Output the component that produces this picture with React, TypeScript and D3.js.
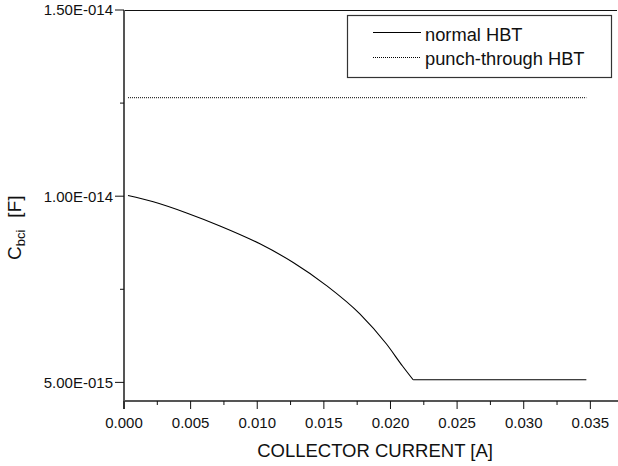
import React from "react";
import * as d3 from "d3";

const W = 618;
const H = 466;

// normal HBT: collector current [A] vs Cbci [F]
const normalI = [0.0003, 0.0022, 0.0047, 0.0072, 0.0102, 0.0127, 0.0152, 0.0177, 0.0197, 0.0209, 0.0217];
const normalC = [10.02e-15, 9.85e-15, 9.55e-15, 9.2e-15, 8.72e-15, 8.22e-15, 7.6e-15, 6.84e-15, 6.03e-15, 5.44e-15, 5.07e-15];
const normalFlatI = [0.0217, 0.0347];
const normalFlatC = [5.07e-15, 5.07e-15];

// punch-through HBT
const punchI = [0.0003, 0.0347];
const punchC = [12.645e-15, 12.645e-15];

const xTicks = [0, 0.005, 0.01, 0.015, 0.02, 0.025, 0.03, 0.035];
const xTickLabels = ["0.000", "0.005", "0.010", "0.015", "0.020", "0.025", "0.030", "0.035"];
const xMinorTicks = [0.0025, 0.0075, 0.0125, 0.0175, 0.0225, 0.0275, 0.0325];
const yTicks = [5e-15, 1e-14, 1.5e-14];
const yTickLabels = ["5.00E-015", "1.00E-014", "1.50E-014"];
const yMinorTicks = [7.5e-15, 1.25e-14];

const legendLabels = ["normal HBT", "punch-through HBT"];

const FONT = "'Liberation Sans', Arial, sans-serif";

export default function App() {
  const left = 124;
  const right = 617;
  const top = 10;
  const bottom = 401;

  const x = d3.scaleLinear().domain([0, 0.037]).range([left, right]);
  const y = d3.scaleLinear().domain([4.5e-15, 1.5e-14]).range([bottom, top]);

  const curveLine = d3
    .line<number>()
    .x((_, i) => x(normalI[i]))
    .y((_, i) => y(normalC[i]))
    .curve(d3.curveMonotoneX);
  const flatLine = d3
    .line<number>()
    .x((_, i) => x(normalFlatI[i]))
    .y((_, i) => y(normalFlatC[i]));
  const punchLine = d3
    .line<number>()
    .x((_, i) => x(punchI[i]))
    .y((_, i) => y(punchC[i]));

  const axisColor = "#555";

  return (
    <svg
      width={W}
      height={H}
      style={{ position: "absolute", left: 0, top: 0, background: "#fff" }}
      fontFamily={FONT}
    >
      <rect x={0} y={0} width={W} height={H} fill="#fff" />
      {/* top frame line */}
      <line x1={left} x2={right} y1={top + 0.5} y2={top + 0.5} stroke="#111" strokeWidth={1.2} />

      {/* data lines */}
      <path d={punchLine(punchI) || ""} fill="none" stroke="#000" strokeWidth={1} strokeDasharray="1,1" />
      <path d={curveLine(normalI) || ""} fill="none" stroke="#000" strokeWidth={1.1} />
      <path d={flatLine(normalFlatI) || ""} fill="none" stroke="#000" strokeWidth={1.1} />

      {/* y axis */}
      <line x1={left} x2={left} y1={top} y2={bottom + 8} stroke={axisColor} strokeWidth={2} />
      {yTicks.map((t, i) => (
        <g key={"yt" + i}>
          <line x1={left - 9} x2={left} y1={y(t)} y2={y(t)} stroke="#111" strokeWidth={1} />
          <text x={left - 11} y={y(t)} dy="0.36em" textAnchor="end" fontSize={15} fill="#111">
            {yTickLabels[i]}
          </text>
        </g>
      ))}
      {yMinorTicks.map((t, i) => (
        <line key={"ym" + i} x1={left - 4} x2={left} y1={y(t)} y2={y(t)} stroke="#111" strokeWidth={1} />
      ))}

      {/* x axis */}
      <line x1={left} x2={W} y1={bottom} y2={bottom} stroke={axisColor} strokeWidth={2} />
      {xTicks.map((t, i) => (
        <g key={"xt" + i}>
          <line x1={x(t)} x2={x(t)} y1={bottom} y2={bottom + 8} stroke="#111" strokeWidth={1} />
          <text x={x(t)} y={427.5} textAnchor="middle" fontSize={15} fill="#111">
            {xTickLabels[i]}
          </text>
        </g>
      ))}
      {xMinorTicks.map((t, i) => (
        <line key={"xm" + i} x1={x(t)} x2={x(t)} y1={bottom} y2={bottom + 4} stroke="#111" strokeWidth={1} />
      ))}

      {/* axis titles */}
      <text x={375} y={457} textAnchor="middle" fontSize={18.5} fill="#111">
        COLLECTOR CURRENT [A]
      </text>
      <text transform="translate(21,260) rotate(-90)" fontSize={19} fill="#111">
        <tspan>C</tspan>
        <tspan fontSize={13} dy={4}>bci</tspan>
        <tspan dy={-4} dx={12}>[F]</tspan>
      </text>

      {/* legend */}
      <rect x={347.5} y={15.5} width={264} height={62} fill="#fff" stroke="#333" strokeWidth={1.2} />
      <line x1={373} x2={421} y1={32.5} y2={32.5} stroke="#000" strokeWidth={1} />
      <text x={425} y={41} fontSize={18.3} fill="#111">{legendLabels[0]}</text>
      <line x1={373} x2={421} y1={57.5} y2={57.5} stroke="#000" strokeWidth={1} strokeDasharray="1,1" />
      <text x={425} y={65} fontSize={18.3} fill="#111">{legendLabels[1]}</text>
    </svg>
  );
}
